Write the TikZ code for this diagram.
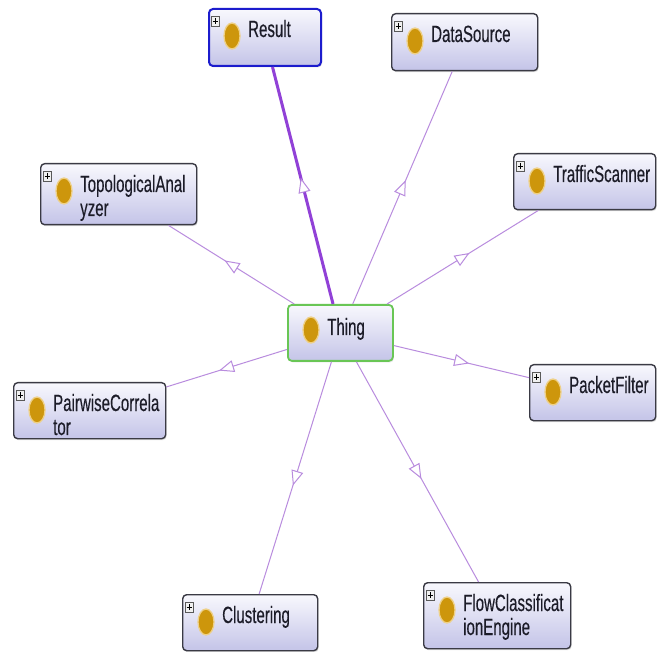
\documentclass[tikz,border=0pt]{standalone}
\usepackage{fontspec}
\newfontfamily\lblfont[FakeStretch=0.64, FakeBold=0.3]{Liberation Sans}
\usetikzlibrary{arrows.meta,decorations.markings,shadows}

\definecolor{edgepurple}{RGB}{185,140,222}
\definecolor{boldpurple}{RGB}{145,65,215}
\definecolor{boxtop}{RGB}{248,248,253}
\definecolor{boxbot}{RGB}{196,196,232}
\definecolor{boxline}{RGB}{58,58,68}
\definecolor{dotgold}{RGB}{205,150,12}
\definecolor{dotrim}{RGB}{238,208,135}
\definecolor{selblue}{RGB}{28,28,205}
\definecolor{rootgreen}{RGB}{105,198,85}
\definecolor{labelink}{RGB}{28,28,40}

\tikzset{
  clsbox/.style={draw=boxline, line width=1.4pt, rounded corners=4pt,
    top color=boxtop, bottom color=boxbot, anchor=north west, inner sep=0pt,
    drop shadow={shadow xshift=1pt, shadow yshift=-1.5pt, opacity=0.22}},
  clslabel/.style={anchor=base west, inner sep=0pt, text=labelink,
    font=\fontsize{23.5}{26}\selectfont\lblfont},
  golddot/.style={fill=dotgold, draw=dotrim, line width=1.3pt},
  plusbox/.style={fill=white!88!gray, draw=gray!70!black, line width=0.7pt},
  isa/.style={draw=edgepurple, line width=1pt, postaction={decorate},
    decoration={markings, mark=at position 0.5 with
      {\arrow[xshift=8pt, edgepurple, line width=1pt]{Triangle[length=15pt, width=12pt, fill=white]}}}},
  isabold/.style={isa, draw=boldpurple, line width=3pt}
}

% class box: [extra style]{name}{left}{top}{width}{height}{first line}{second line}
\newcommand\owlclass[8][]{%
  \node[clsbox, #1, minimum width=#5, minimum height=#6] (#2) at (#3,#4) {};
  \draw[plusbox] ({#3+3},{#4+8}) rectangle ({#3+11},{#4+18});
  \draw[black, line width=0.8pt] ({#3+4.5},{#4+13}) -- ({#3+9.5},{#4+13})
    ({#3+7},{#4+10}) -- ({#3+7},{#4+16});
  \draw[golddot] ({#3+24},{#4+28}) ellipse [x radius=8, y radius=13];
  \node[clslabel] (#2-l1) at ({#3+40},{#4+29}) {#7};
  \node[clslabel] (#2-l2) at ({#3+40},{#4+53}) {#8};
}

\begin{document}
\begin{tikzpicture}[x=1pt, y=-1pt]
  \fill[white] (0,0) rectangle (667,652);
  \useasboundingbox (0,0) rectangle (667,652);

  % root class
  \node[clsbox, draw=rootgreen, line width=1.8pt, minimum width=105, minimum height=56] (thing) at (287,304) {};
  \draw[golddot] (311,330) ellipse [x radius=8, y radius=13];
  \node[clslabel] (thing-l1) at (327,335) {Thing};

  % subclasses
  \owlclass[draw=selblue, line width=2pt]{result}{208}{8}{112}{57}{Result}{}
  \owlclass{datasource}{391}{13}{146}{57}{DataSource}{}
  \owlclass{topo}{40}{163}{156}{61}{TopologicalAnal}{yzer}
  \owlclass{traffic}{513}{153}{142}{56}{TrafficScanner}{}
  \owlclass{pairwise}{13}{382}{152}{56}{PairwiseCorrela}{tor}
  \owlclass{packet}{529}{364}{126}{56}{PacketFilter}{}
  \owlclass{clustering}{182}{594}{135}{56}{Clustering}{}
  \owlclass{flow}{423}{582}{147}{66}{FlowClassificat}{ionEngine}

  % subclass links
  \draw[isabold] (thing) -- (result);
  \draw[isa] (thing) -- (datasource);
  \draw[isa] (thing) -- (topo);
  \draw[isa] (thing) -- (traffic);
  \draw[isa] (thing) -- (pairwise);
  \draw[isa] (thing) -- (packet);
  \draw[isa] (thing) -- (clustering);
  \draw[isa] (thing) -- (flow);
\end{tikzpicture}
\end{document}
